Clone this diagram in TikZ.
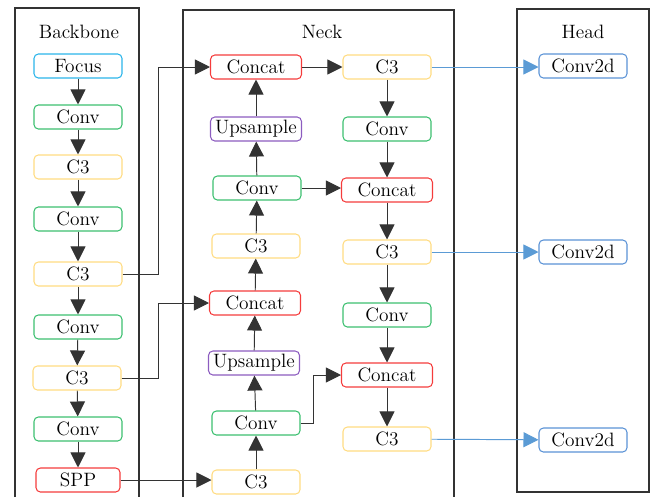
\documentclass[tikz,border=0pt]{standalone}
\usepackage{xcolor}
\usetikzlibrary{arrows.meta}
\definecolor{focusblue}{HTML}{2BB5EA}
\definecolor{convgreen}{HTML}{3CC070}
\definecolor{cthree}{HTML}{FFDC82}
\definecolor{catred}{HTML}{F53C3C}
\definecolor{uppurple}{HTML}{8C5CC0}
\definecolor{headblue}{HTML}{5B93D6}
\definecolor{arrowblue}{HTML}{5B9BD5}

\begin{document}
\begin{tikzpicture}[x=0.02cm,y=-0.02cm,
    font=\fontsize{11}{13}\selectfont,
    blk/.style={draw,rounded corners=2.5pt,line width=0.6pt,inner sep=0pt,minimum height=0.48cm,minimum width=1.76cm,fill=white},
    focusblk/.style={blk,draw=focusblue},
    convblk/.style={blk,draw=convgreen},
    cblk/.style={blk,draw=cthree},
    catblk/.style={blk,draw=catred,minimum width=1.82cm},
    upblk/.style={blk,draw=uppurple,minimum width=1.82cm},
    detblk/.style={blk,draw=headblue},
    frame/.style={line width=0.6pt,black!80},
    flow/.style={-{Triangle[length=0.3cm,width=0.3cm]},line width=0.55pt,black!80},
    outflow/.style={flow,arrowblue}]
    \useasboundingbox (0,0) rectangle (651,497);

    \draw[frame] (15,497) |- (139,8) -- (139,497);
    \draw[frame] (183,497) |- (454,10) -- (454,497);
    \draw[frame] (517,9) rectangle (649,492);
    \node (ttlback) at (79,32) {Backbone};
    \node (ttlneck) at (322,32) {Neck};
    \node (ttlhead) at (583,32) {Head};

    \node[focusblk] (focus) at (78,66) {Focus};
    \node[convblk] (bconv1) at (78,117) {Conv};
    \node[cblk] (bcthree1) at (78,167) {C3};
    \node[convblk] (bconv2) at (78,219) {Conv};
    \node[cblk] (bcthree2) at (78,274) {C3};
    \node[convblk] (bconv3) at (78,327) {Conv};
    \node[cblk] (bcthree3) at (77,378) {C3};
    \node[convblk] (bconv4) at (78,429) {Conv};
    \node[blk,draw=catred,minimum width=1.68cm] (spp) at (78,480) {SPP};

    \node[catblk] (ncat1) at (256,67) {Concat};
    \node[upblk] (nup1) at (256,129) {Upsample};
    \node[convblk] (nconv1) at (257,188) {Conv};
    \node[cblk] (ncthree1) at (256,246) {C3};
    \node[catblk] (ncat2) at (255,303) {Concat};
    \node[upblk] (nup2) at (254,363) {Upsample};
    \node[convblk] (nconv2) at (256,423) {Conv};
    \node[cblk] (ncthree2) at (256,482) {C3};

    \node[cblk] (pcthree1) at (387,67) {C3};
    \node[convblk] (pconv1) at (387,129) {Conv};
    \node[catblk] (pcat1) at (387,190) {Concat};
    \node[cblk] (pcthree2) at (387,252) {C3};
    \node[convblk] (pconv2) at (387,315) {Conv};
    \node[catblk] (pcat2) at (387,375) {Concat};
    \node[cblk] (pcthree3) at (387,439) {C3};

    \node[detblk] (det1) at (583,66) {Conv2d};
    \node[detblk] (det2) at (583,252) {Conv2d};
    \node[detblk] (det3) at (583,440) {Conv2d};

    \foreach \a/\b in {focus/bconv1,bconv1/bcthree1,bcthree1/bconv2,bconv2/bcthree2,
        bcthree2/bconv3,bconv3/bcthree3,bcthree3/bconv4,bconv4/spp,
        ncthree2/nconv2,nconv2/nup2,nup2/ncat2,ncat2/ncthree1,ncthree1/nconv1,nconv1/nup1,nup1/ncat1,
        pcthree1/pconv1,pconv1/pcat1,pcat1/pcthree2,pcthree2/pconv2,pconv2/pcat2,pcat2/pcthree3}
        \draw[flow] (\a) -- (\b);

    \draw[flow] (bcthree2.east) -- ++(36,0) |- (ncat1.west);
    \draw[flow] (bcthree3.east) -- ++(37,0) |- (ncat2.west);
    \draw[flow] (spp.east) -- (spp.east -| ncthree2.west);
    \draw[flow] (ncat1) -- (pcthree1);
    \draw[flow] (nconv1.east) -- (nconv1.east -| pcat1.west);
    \draw[flow] (nconv2.east) -- ++(13,0) |- (pcat2.west);

    \draw[outflow] (pcthree1.east) -- (pcthree1.east -| det1.west);
    \draw[outflow] (pcthree2) -- (det2);
    \draw[outflow] (pcthree3) -- (det3);
\end{tikzpicture}
\end{document}
